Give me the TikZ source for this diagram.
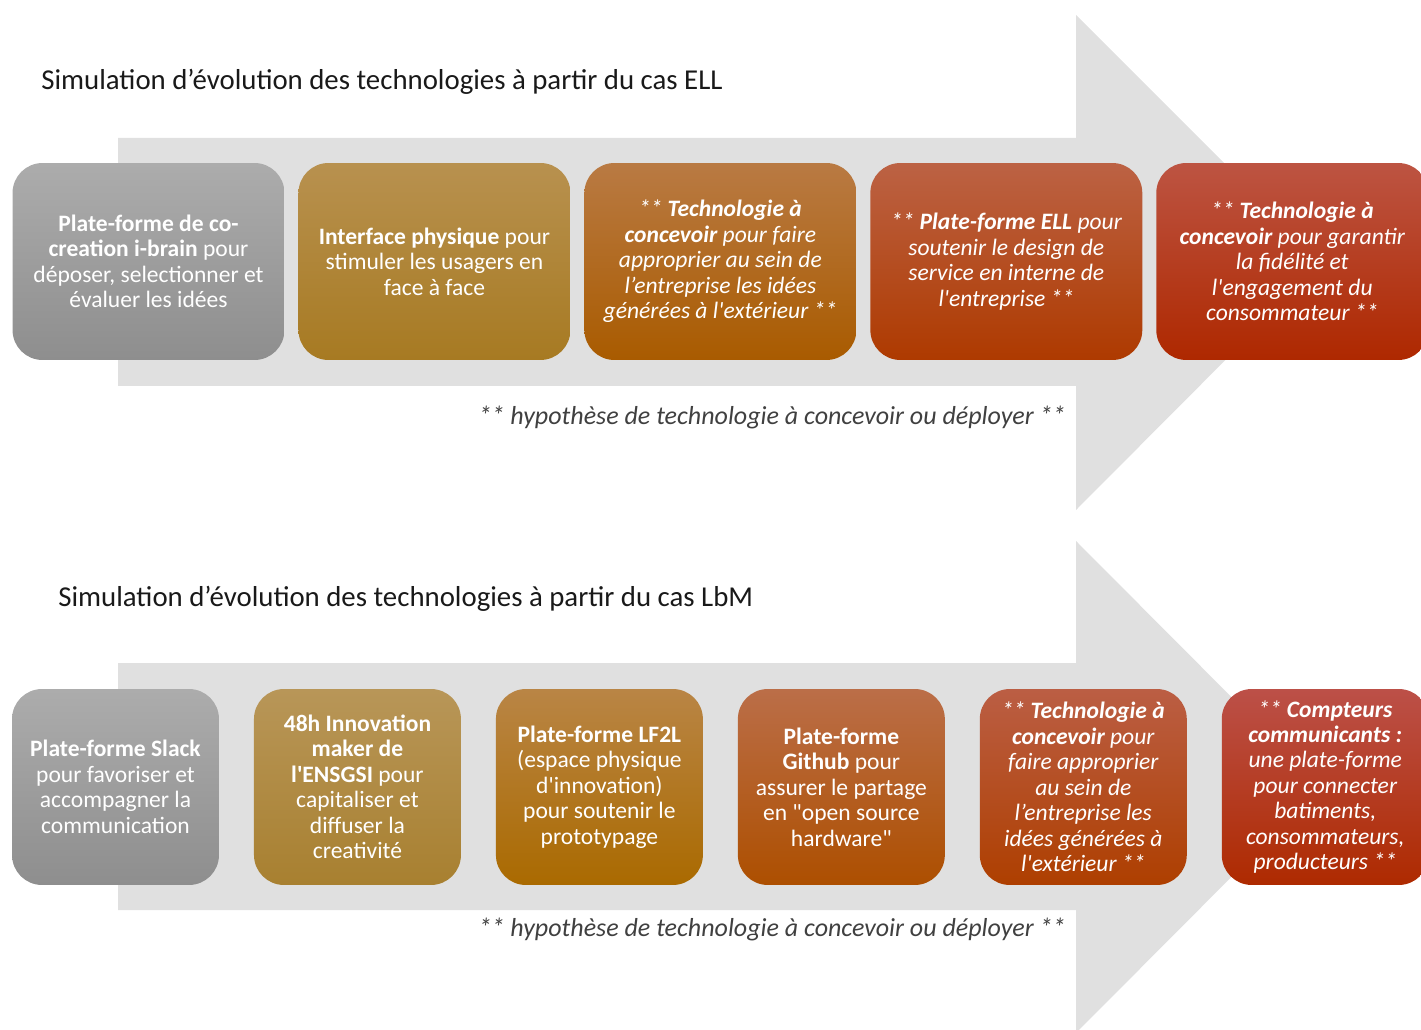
\documentclass[tikz,border=0pt]{standalone}
\usepackage{fontspec}
\setmainfont{Carlito}[Ligatures=TeXOff]
\usetikzlibrary{positioning}

\definecolor{fondfleche}{HTML}{E0E0E0}
\definecolor{grisH}{HTML}{ACACAC}   \definecolor{grisB}{HTML}{8E8E8E}
\definecolor{orA}{HTML}{B8914F}     \definecolor{orB}{HTML}{A77A22}
\definecolor{orangeA}{HTML}{B97A43} \definecolor{orangeB}{HTML}{A95B00}
\definecolor{rouilleA}{HTML}{BC6244}\definecolor{rouilleB}{HTML}{AE3A00}
\definecolor{rougeA}{HTML}{BD5442}  \definecolor{rougeB}{HTML}{AE2800}
\definecolor{or2A}{HTML}{B89658}    \definecolor{or2B}{HTML}{A88030}
\definecolor{orange2A}{HTML}{B98545}\definecolor{orange2B}{HTML}{AA6A00}
\definecolor{rouille2A}{HTML}{BB6E48}\definecolor{rouille2B}{HTML}{AD4F00}
\definecolor{rouge2A}{HTML}{BB5E44} \definecolor{rouge2B}{HTML}{AE3F00}
\definecolor{rouge3A}{HTML}{BC5048} \definecolor{rouge3B}{HTML}{AE2A00}

\tikzset{
  fleche/.style={fill=fondfleche},
  techbox/.style={rectangle, rounded corners=0.6cm, align=center, text=white,
    inner sep=0pt, font=\fontsize{13.4}{14.5}\selectfont},
  titre/.style={anchor=west, inner sep=0pt, text=black!90, font=\fontsize{16.4}{19}\selectfont},
  hypo/.style={anchor=east, inner sep=0pt, text=black!75, font=\fontsize{14.8}{17}\selectfont\itshape}
}

\begin{document}
\begin{tikzpicture}[x=0.02cm, y=-0.02cm, node distance=5.72cm]
  \useasboundingbox (0,0) rectangle (1421,1030);

  % fleches de fond
  \fill[fleche] (118,138) -- (1076,138) -- (1076,15) -- (1323,262)
    -- (1076,510) -- (1076,386) -- (118,386) -- cycle;
  \fill[fleche] (118,663) -- (1076,663) -- (1076,541) -- (1321,787)
    -- (1076,1033) -- (1076,910) -- (118,910) -- cycle;

  % cas ELL
  \node (titreELL) [titre] at (41,82) {Simulation d’évolution des technologies à partir du cas ELL};
  \node (ibrain) [techbox, minimum width=5.44cm, minimum height=3.94cm, top color=grisH, bottom color=grisB] at (148.5,261.5)
    {\textbf{Plate-forme de co-}\\\textbf{creation i-brain} pour\\déposer, selectionner et\\évaluer les idées};
  \node (interface) [right of=ibrain, techbox, minimum width=5.44cm, minimum height=3.94cm, top color=orA, bottom color=orB]
    {\textbf{Interface physique} pour\\stimuler les usagers en\\face à face};
  \node (techA) [right of=interface, techbox, minimum width=5.44cm, minimum height=3.94cm, top color=orangeA, bottom color=orangeB]
    {\itshape ** \textbf{Technologie à}\\\itshape\textbf{concevoir} pour faire\\\itshape approprier au sein de\\\itshape l’entreprise les idées\\\itshape générées à l'extérieur **};
  \node (pfELL) [right of=techA, techbox, minimum width=5.44cm, minimum height=3.94cm, top color=rouilleA, bottom color=rouilleB]
    {\itshape ** \textbf{Plate-forme ELL} pour\\\itshape soutenir le design de\\\itshape service en interne de\\\itshape l'entreprise **};
  \node (techB) [right of=pfELL, techbox, minimum width=5.44cm, minimum height=3.94cm, top color=rougeA, bottom color=rougeB]
    {\itshape ** \textbf{Technologie à}\\\itshape\textbf{concevoir} pour garantir\\\itshape la fidélité et\\\itshape l'engagement du\\\itshape consommateur **};
  \node (hypoELL) [hypo] at (1066,418) {** hypothèse de technologie à concevoir ou déployer **};

  % cas LbM
  \begin{scope}[node distance=4.84cm]
  \node (titreLbM) [titre] at (58,599) {Simulation d’évolution des technologies à partir du cas LbM};
  \node (slack) [techbox, minimum width=4.14cm, minimum height=3.92cm, top color=grisH, bottom color=grisB] at (115.5,787)
    {\textbf{Plate-forme Slack}\\pour favoriser et\\accompagner la\\communication};
  \node (ensgsi) [right of=slack, techbox, minimum width=4.14cm, minimum height=3.92cm, top color=or2A, bottom color=or2B]
    {\textbf{48h Innovation}\\\textbf{maker de}\\\textbf{l'ENSGSI} pour\\capitaliser et\\diffuser la\\creativité};
  \node (lf2l) [right of=ensgsi, techbox, minimum width=4.14cm, minimum height=3.92cm, top color=orange2A, bottom color=orange2B]
    {\textbf{Plate-forme LF2L}\\(espace physique\\d'innovation)\\pour soutenir le\\prototypage};
  \node (github) [right of=lf2l, techbox, minimum width=4.14cm, minimum height=3.92cm, top color=rouille2A, bottom color=rouille2B]
    {\textbf{Plate-forme}\\\textbf{Github} pour\\assurer le partage\\en "open source\\hardware"};
  \node (techC) [right of=github, techbox, minimum width=4.14cm, minimum height=3.92cm, top color=rouge2A, bottom color=rouge2B]
    {\itshape ** \textbf{Technologie à}\\\itshape\textbf{concevoir} pour\\\itshape faire approprier\\\itshape au sein de\\\itshape l’entreprise les\\\itshape idées générées à\\\itshape l'extérieur **};
  \node (compteurs) [right of=techC, techbox, minimum width=4.14cm, minimum height=3.92cm, top color=rouge3A, bottom color=rouge3B]
    {\itshape ** \textbf{Compteurs}\\\itshape\textbf{communicants :}\\\itshape une plate-forme\\\itshape pour connecter\\\itshape batiments,\\\itshape consommateurs,\\\itshape producteurs **};
  \node (hypoLbM) [hypo] at (1066,930) {** hypothèse de technologie à concevoir ou déployer **};
  \end{scope}
\end{tikzpicture}
\end{document}
